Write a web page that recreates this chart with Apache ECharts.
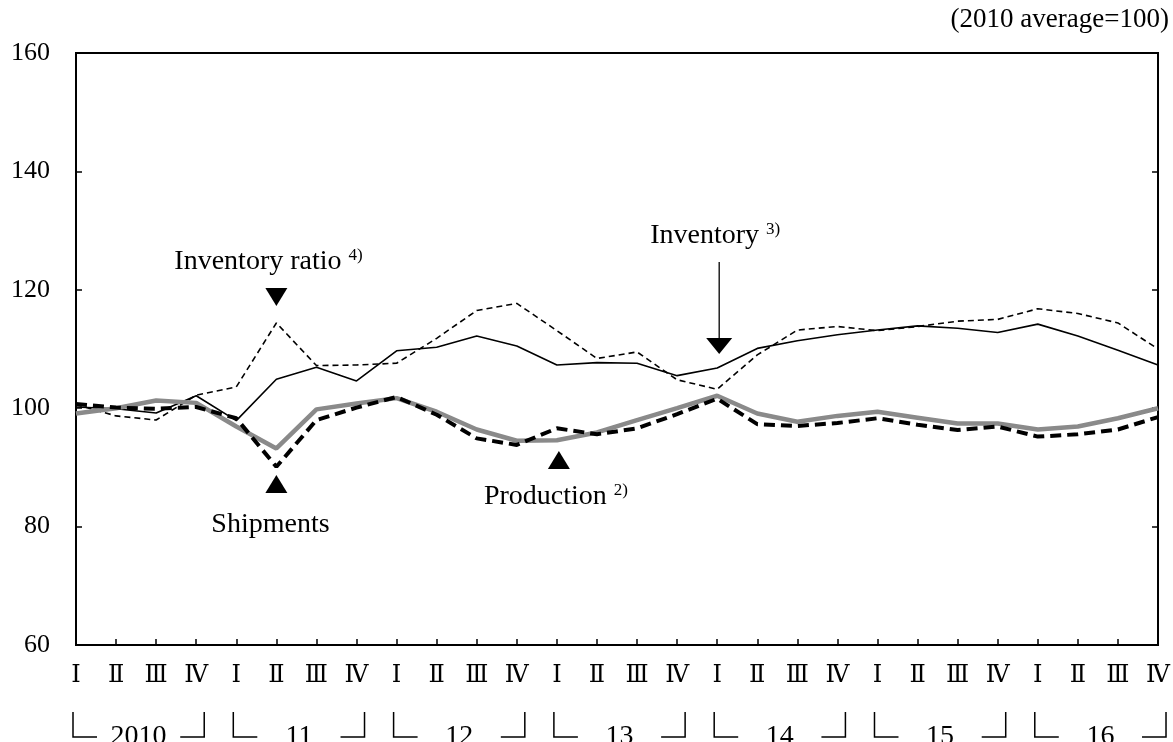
<!DOCTYPE html>
<html>
<head>
<meta charset="utf-8">
<script src="https://cdn.jsdelivr.net/npm/echarts@6/dist/echarts.min.js"></script>
<style>
  html, body { margin: 0; padding: 0; background: #fff; }
  #main { width: 1173px; height: 742px; }
</style>
</head>
<body>
<div id="main"></div>
<script>
// quarterly, 2010 Q1 .. 2016 Q4 (2010 average = 100)
const quarterNames = ['Ⅰ', 'Ⅱ', 'Ⅲ', 'Ⅳ'];
const years = ['2010', '11', '12', '13', '14', '15', '16'];
const yTicks = [60, 80, 100, 120, 140, 160];

const production = [99.1, 100.0, 101.3, 100.9, 96.9, 93.2, 99.8, 100.8, 101.7, 99.4, 96.4, 94.5, 94.6, 95.9,
  98.0, 100.0, 102.1, 99.1, 97.7, 98.7, 99.4, 98.4, 97.4, 97.4, 96.4, 96.9, 98.3, 100.0];
const shipments = [100.7, 100.1, 99.9, 100.2, 98.3, 90.1, 98.0, 100.1, 101.9, 98.9, 94.9, 93.8, 96.6, 95.6,
  96.6, 99.0, 101.6, 97.3, 97.0, 97.5, 98.3, 97.2, 96.3, 96.9, 95.2, 95.6, 96.4, 98.5];
const inventory = [100.2, 99.9, 99.2, 102.1, 97.9, 104.9, 106.9, 104.6, 109.7, 110.3, 112.2, 110.5, 107.3, 107.7,
  107.6, 105.5, 106.8, 110.1, 111.4, 112.4, 113.2, 113.9, 113.5, 112.8, 114.2, 112.2, 109.8, 107.3];
const inventoryRatio = [100.6, 98.7, 98.0, 102.2, 103.6, 114.4, 107.2, 107.3, 107.6, 111.8, 116.5, 117.7, 113.1, 108.4,
  109.5, 104.8, 103.2, 109.0, 113.2, 113.8, 113.1, 113.8, 114.7, 115.0, 116.8, 116.0, 114.4, 110.0];

const categories = [];
years.forEach(y => quarterNames.forEach(q => categories.push(q)));

const serif = "'Liberation Serif', 'DejaVu Serif', 'Noto Sans CJK JP', serif";

const chart = echarts.init(document.getElementById('main'));

const option = {
  animation: false,
  backgroundColor: '#fff',
  textStyle: { fontFamily: serif, color: '#000' },
  grid: {
    left: 76, right: 13, top: 53, bottom: 97,
    show: true, borderColor: '#000', borderWidth: 2, backgroundColor: 'transparent'
  },
  xAxis: {
    type: 'category',
    data: categories,
    boundaryGap: false,
    axisLine: { lineStyle: { color: '#000', width: 2 } },
    axisTick: { inside: true, length: 6, lineStyle: { color: '#000', width: 1.5 } },
    axisLabel: { color: '#000', fontFamily: serif, fontSize: 24, margin: 19, interval: 0 },
    splitLine: { show: false }
  },
  yAxis: [{
    type: 'value',
    min: yTicks[0], max: yTicks[yTicks.length - 1], interval: 20,
    axisLine: { show: true, lineStyle: { color: '#000', width: 2 } },
    axisTick: { show: true, inside: true, length: 6, lineStyle: { color: '#000', width: 1.5 } },
    axisLabel: { color: '#000', fontFamily: serif, fontSize: 26, margin: 26 },
    splitLine: { show: false }
  }, {
    type: 'value',
    position: 'right',
    min: yTicks[0], max: yTicks[yTicks.length - 1], interval: 20,
    axisLine: { show: true, lineStyle: { color: '#000', width: 2 } },
    axisTick: { show: true, inside: true, length: 6, lineStyle: { color: '#000', width: 1.5 } },
    axisLabel: { show: false },
    splitLine: { show: false }
  }],
  series: [
    {
      name: 'Inventory ratio', type: 'line', data: inventoryRatio, showSymbol: false,
      lineStyle: { color: '#000', width: 1.6, type: [6, 4] }, z: 2
    },
    {
      name: 'Inventory', type: 'line', data: inventory, showSymbol: false,
      lineStyle: { color: '#000', width: 1.6 }, z: 3
    },
    {
      name: 'Production', type: 'line', data: production, showSymbol: false,
      lineStyle: { color: '#8a8a8a', width: 4.5 }, z: 4
    },
    {
      name: 'Shipments', type: 'line', data: shipments, showSymbol: false,
      lineStyle: { color: '#000', width: 4, type: [11, 6] }, z: 5
    }
  ]
};
chart.setOption(option);

// annotations, placed from the chart's own coordinate system
function px(i, v) { return chart.convertToPixel({ gridIndex: 0 }, [i, v]); }
const g = [];
function text(x, y, content, align, size) {
  g.push({
    type: 'text', x: x, y: y,
    style: {
      text: content, fill: '#000', font: (size || 28) + 'px ' + serif,
      align: align || 'center', verticalAlign: 'middle',
      rich: {
        s: { fontSize: 17, fontFamily: serif, verticalAlign: 'top', padding: [0, 0, 12, 0] }
      }
    }
  });
}
function tri(x, y, down) {
  const h = 18, w = 11;
  const pts = down ? [[x - w, y - h / 2], [x + w, y - h / 2], [x, y + h / 2]]
                   : [[x - w, y + h / 2], [x + w, y + h / 2], [x, y - h / 2]];
  g.push({ type: 'polygon', shape: { points: pts }, style: { fill: '#000' } });
}

// Inventory ratio label + marker
let p = px(5, 0);
text(p[0] - 102, 262, 'Inventory ratio {s|4)}', 'left');
tri(p[0], 297, true);
// Shipments
tri(p[0], 484, false);
text(p[0] - 65, 525, 'Shipments', 'left');
// Production
p = px(12, 0);
tri(p[0] + 2, 460, false);
text(p[0] - 73, 497, 'Production {s|2)}', 'left');
// Inventory with arrow
p = px(16, 0);
text(p[0] - 2, 236, 'Inventory {s|3)}');
g.push({ type: 'line', shape: { x1: p[0] + 2, y1: 262, x2: p[0] + 2, y2: 342 }, style: { stroke: '#000', lineWidth: 1.3 } });
g.push({ type: 'polygon', shape: { points: [[p[0] - 11, 338], [p[0] + 15, 338], [p[0] + 2, 354]] }, style: { fill: '#000' } });

// unit note
text(1169, 20, '(2010 average=100)', 'right', 27);

// year brackets under the quarter labels
const yb = px(0, 60)[1];
years.forEach((yr, k) => {
  const xl = px(4 * k, 60)[0] - 3;
  const xr = px(4 * k + 3, 60)[0] + 8;
  const top = yb + 67, bot = yb + 92;
  g.push({ type: 'polyline', shape: { points: [[xl, top], [xl, bot], [xl + 24, bot]] }, style: { stroke: '#000', lineWidth: 1.5, fill: null } });
  g.push({ type: 'polyline', shape: { points: [[xr - 24, bot], [xr, bot], [xr, top]] }, style: { stroke: '#000', lineWidth: 1.5, fill: null } });
  text((xl + xr) / 2, yb + 92, yr, 'center', 28);
});

chart.setOption({ graphic: g });
</script>
</body>
</html>
